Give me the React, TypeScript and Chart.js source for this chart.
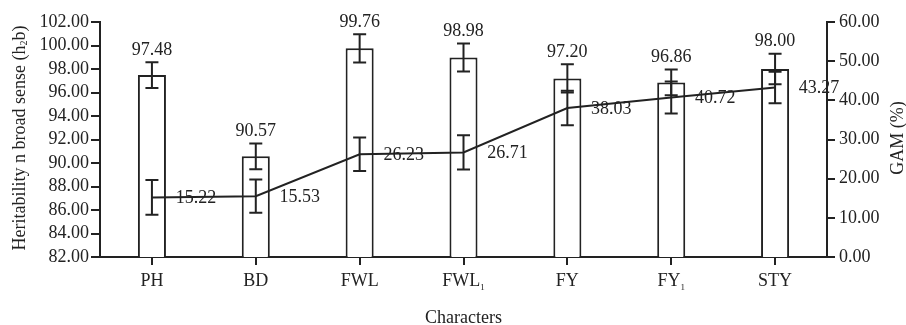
import React, { useEffect, useRef } from "react";
import { Chart, registerables } from "chart.js";

Chart.register(...registerables);

const categories = ["PH", "BD", "FWL", "FWL|1", "FY", "FY|1", "STY"];
const heritability = [97.48, 90.57, 99.76, 98.98, 97.2, 96.86, 98.0];
const heritabilityErr = [1.1, 1.1, 1.2, 1.2, 1.2, 1.1, 1.3];
const gam = [15.22, 15.53, 26.23, 26.71, 38.03, 40.72, 43.27];
const gamErr = [4.45, 4.25, 4.3, 4.4, 4.4, 4.1, 4.0];
const leftTicks = { min: 82, max: 102, step: 2 };
const rightTicks = { min: 0, max: 60, step: 10 };

const INK = "#222";
const FONT = "Liberation Serif, Times New Roman, serif";
const FS = 18;

function drawSubText(ctx: CanvasRenderingContext2D, main: string, sub: string, x: number, y: number) {
  ctx.font = `${FS}px ${FONT}`;
  const w1 = ctx.measureText(main).width;
  ctx.font = `${Math.round(FS * 0.5)}px ${FONT}`;
  const w2 = ctx.measureText(sub).width;
  const total = w1 + w2;
  const sx = x - total / 2;
  ctx.textAlign = "left";
  ctx.textBaseline = "alphabetic";
  ctx.font = `${FS}px ${FONT}`;
  ctx.fillText(main, sx, y);
  ctx.font = `${Math.round(FS * 0.5)}px ${FONT}`;
  ctx.fillText(sub, sx + w1, y + 4);
}

const overlay = {
  id: "overlay",
  afterDatasetsDraw(chart: any) {
    const ctx: CanvasRenderingContext2D = chart.ctx;
    const xs = chart.scales.x;
    const ys = chart.scales.y;
    const y1 = chart.scales.y1;
    ctx.save();
    ctx.strokeStyle = INK;
    ctx.fillStyle = INK;
    ctx.lineWidth = 2;
    const cap = 6.5;
    const bar = (cx: number, top: number, bot: number) => {
      ctx.beginPath();
      ctx.moveTo(cx, top);
      ctx.lineTo(cx, bot);
      ctx.moveTo(cx - cap, top);
      ctx.lineTo(cx + cap, top);
      ctx.moveTo(cx - cap, bot);
      ctx.lineTo(cx + cap, bot);
      ctx.stroke();
    };
    categories.forEach((_, i) => {
      const cx = xs.getPixelForValue(i);
      const hTop = ys.getPixelForValue(heritability[i] + heritabilityErr[i]);
      const hBot = ys.getPixelForValue(heritability[i] - heritabilityErr[i]);
      bar(cx, hTop, hBot);
      const gTop = y1.getPixelForValue(gam[i] + gamErr[i]);
      const gBot = y1.getPixelForValue(gam[i] - gamErr[i]);
      bar(cx, gTop, gBot);
      ctx.font = `${FS}px ${FONT}`;
      ctx.textAlign = "center";
      ctx.textBaseline = "middle";
      ctx.fillText(heritability[i].toFixed(2), cx, hTop - 12);
      const gy = y1.getPixelForValue(gam[i]);
      ctx.fillText(gam[i].toFixed(2), cx + 44, gy + 1);
      const [m, s] = categories[i].split("|");
      drawSubText(ctx, m, s || "", cx, 286);
    });
    ctx.restore();
  },
  afterDraw(chart: any) {
    const ctx: CanvasRenderingContext2D = chart.ctx;
    const ca = chart.chartArea;
    ctx.save();
    ctx.fillStyle = INK;
    ctx.font = `${FS}px ${FONT}`;
    ctx.textAlign = "center";
    ctx.textBaseline = "middle";
    ctx.fillText("Characters", (ca.left + ca.right) / 2, 318);
    ctx.save();
    ctx.translate(20, 138);
    ctx.rotate(-Math.PI / 2);
    ctx.textBaseline = "middle";
    ctx.font = `${FS}px ${FONT}`;
    const a = "Heritability n broad sense (h";
    const sub = "2";
    const b = "b)";
    const wa = ctx.measureText(a).width;
    const wb = ctx.measureText(b).width;
    ctx.font = `${Math.round(FS * 0.55)}px ${FONT}`;
    const ws = ctx.measureText(sub).width;
    const total = wa + ws + wb;
    const sx = -total / 2;
    ctx.textAlign = "left";
    ctx.font = `${FS}px ${FONT}`;
    ctx.fillText(a, sx, 0);
    ctx.font = `${Math.round(FS * 0.55)}px ${FONT}`;
    ctx.fillText(sub, sx + wa, 4);
    ctx.font = `${FS}px ${FONT}`;
    ctx.fillText(b, sx + wa + ws, 0);
    ctx.restore();
    ctx.save();
    ctx.translate(898, 138);
    ctx.rotate(-Math.PI / 2);
    ctx.textAlign = "center";
    ctx.textBaseline = "middle";
    ctx.font = `${FS}px ${FONT}`;
    ctx.fillText("GAM (%)", 0, 0);
    ctx.restore();
    ctx.restore();
  },
};

export default function App() {
  const ref = useRef<HTMLCanvasElement>(null);
  useEffect(() => {
    document.body.style.margin = "0";
    const canvas = ref.current!;
    const chart = new Chart(canvas, {
      type: "bar",
      data: {
        labels: categories,
        datasets: [
          {
            type: "line",
            label: "GAM",
            data: gam,
            yAxisID: "y1",
            borderColor: INK,
            borderWidth: 2,
            pointRadius: 0,
            tension: 0,
            fill: false,
            order: 0,
          } as any,
          {
            type: "bar",
            label: "h2b",
            data: heritability,
            yAxisID: "y",
            backgroundColor: "#fff",
            borderColor: INK,
            borderWidth: 2,
            barPercentage: 0.27,
            categoryPercentage: 1,
            order: 1,
          },
        ],
      },
      options: {
        responsive: false,
        animation: false,
        layout: { padding: { top: 22, left: 0, right: 0, bottom: 0 } },
        plugins: { legend: { display: false }, tooltip: { enabled: false } },
        scales: {
          x: {
            offset: true,
            grid: { display: true, drawOnChartArea: false, drawTicks: true, tickLength: 8, color: INK, lineWidth: 2, offset: false },
            border: { display: true, color: INK, width: 2 },
            ticks: { display: false },
            afterFit: (s: any) => { s.height = 325 - 257; },
          },
          y: {
            position: "left",
            min: leftTicks.min,
            max: leftTicks.max,
            grid: { drawOnChartArea: false, drawTicks: true, tickLength: 9, color: INK, lineWidth: 2 },
            border: { display: true, color: INK, width: 2 },
            ticks: { stepSize: leftTicks.step, autoSkip: false, padding: 2, color: INK, font: { family: FONT, size: FS }, callback: (v: any) => Number(v).toFixed(2) },
            afterFit: (s: any) => { s.width = 100; },
          },
          y1: {
            position: "right",
            min: rightTicks.min,
            max: rightTicks.max,
            grid: { drawOnChartArea: false, drawTicks: true, tickLength: 8, color: INK, lineWidth: 2 },
            border: { display: true, color: INK, width: 2 },
            ticks: { stepSize: rightTicks.step, autoSkip: false, padding: 4, color: INK, font: { family: FONT, size: FS }, callback: (v: any) => Number(v).toFixed(2) },
            afterFit: (s: any) => { s.width = 906 - 827; },
          },
        },
      },
      plugins: [overlay],
    });
    return () => chart.destroy();
  }, []);
  return <canvas ref={ref} width={906} height={325} style={{ display: "block" }} />;
}
